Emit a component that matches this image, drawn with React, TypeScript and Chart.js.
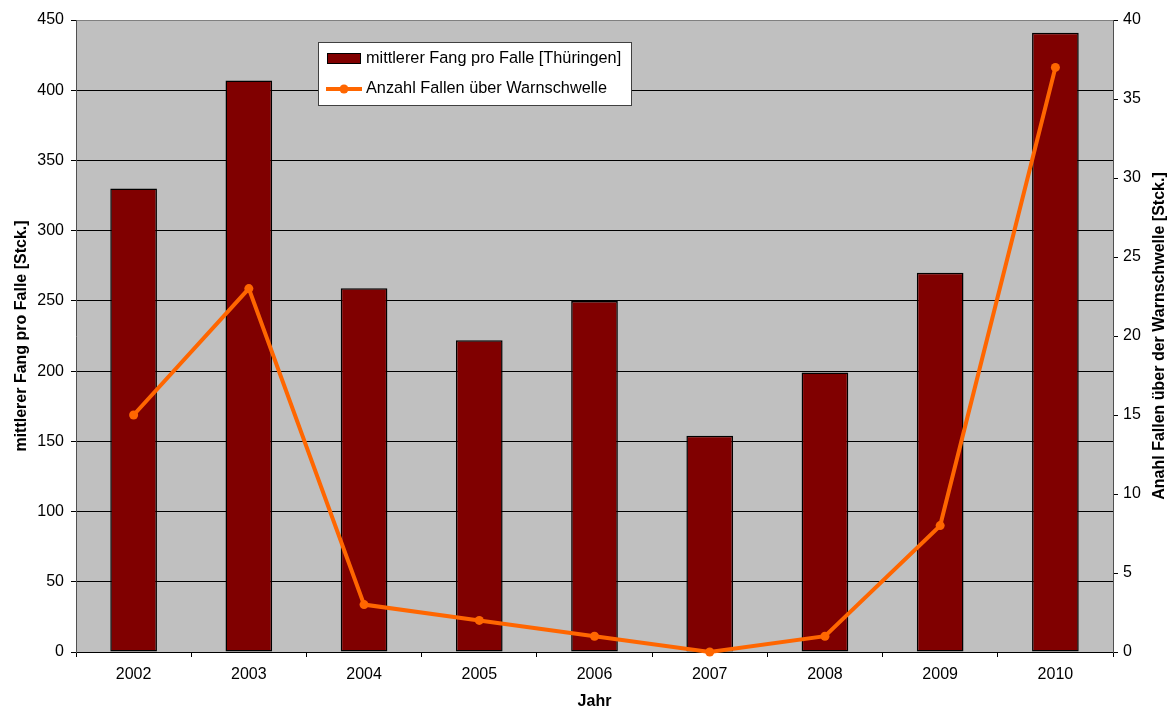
import React, { useEffect, useRef } from "react";
import { Chart, registerables } from "chart.js";

Chart.register(...registerables);

const years = ["2002", "2003", "2004", "2005", "2006", "2007", "2008", "2009", "2010"];
const meanCatch = [330, 407, 259, 222, 250, 154, 199, 270, 441];
const trapsOverThreshold = [15, 23, 3, 2, 1, 0, 1, 8, 37];

const barLabel = "mittlerer Fang pro Falle [Thüringen]";
const lineLabel = "Anzahl Fallen über Warnschwelle";
const leftTitle = "mittlerer Fang pro Falle [Stck.]";
const rightTitle = "Anahl Fallen über der Warnschwelle [Stck.]";
const xTitle = "Jahr";

const FONT = "'Liberation Sans', Arial, sans-serif";
const BAR_COLOR = "#800000";
const LINE_COLOR = "#FF6600";

const bgPlugin = {
  id: "plotBg",
  beforeDraw(chart: any) {
    const { ctx, chartArea } = chart;
    ctx.save();
    ctx.fillStyle = "#C0C0C0";
    ctx.fillRect(chartArea.left, chartArea.top, chartArea.right - chartArea.left, chartArea.bottom - chartArea.top);
    ctx.restore();
  },
};

const extrasPlugin = {
  id: "extras",
  afterDraw(chart: any) {
    const { ctx, chartArea } = chart;
    ctx.save();
    // right axis title (reads bottom-to-top)
    ctx.translate(1160, (chartArea.top + chartArea.bottom) / 2);
    ctx.rotate(-Math.PI / 2);
    ctx.textAlign = "center";
    ctx.textBaseline = "middle";
    ctx.fillStyle = "#000";
    ctx.font = `bold 16px ${FONT}`;
    ctx.fillText(rightTitle, 0, 0);
    ctx.restore();

    // legend
    const ds = chart.data.datasets;
    ctx.save();
    const bx = 318.5, by = 42.5, bw = 313, bh = 63;
    ctx.fillStyle = "#fff";
    ctx.fillRect(bx, by, bw, bh);
    ctx.strokeStyle = "#404040";
    ctx.lineWidth = 1;
    ctx.strokeRect(bx, by, bw, bh);
    // bar swatch
    ctx.fillStyle = BAR_COLOR;
    ctx.fillRect(327.5, 53.5, 33, 10);
    ctx.strokeStyle = "#000";
    ctx.strokeRect(327.5, 53.5, 33, 10);
    // line swatch
    ctx.strokeStyle = LINE_COLOR;
    ctx.lineWidth = 4;
    ctx.beginPath();
    ctx.moveTo(326, 89);
    ctx.lineTo(362, 89);
    ctx.stroke();
    ctx.fillStyle = LINE_COLOR;
    ctx.beginPath();
    ctx.arc(344, 89, 4.5, 0, Math.PI * 2);
    ctx.fill();
    ctx.fillStyle = "#000";
    ctx.font = `16.3px ${FONT}`;
    ctx.textAlign = "left";
    ctx.textBaseline = "middle";
    ctx.fillText(ds[0].label, 366, 59);
    ctx.fillText(ds[1].label, 366, 89);
    ctx.restore();
  },
};

export default function App() {
  const ref = useRef<HTMLCanvasElement | null>(null);

  useEffect(() => {
    if (!ref.current) return;
    const chart = new Chart(ref.current, {
      data: {
        labels: years,
        datasets: [
          {
            type: "bar",
            label: barLabel,
            data: meanCatch,
            backgroundColor: BAR_COLOR,
            borderColor: "#000",
            borderWidth: 1.5,
            borderSkipped: false,
            barPercentage: 0.405,
            categoryPercentage: 1,
            yAxisID: "y",
            order: 2,
          },
          {
            type: "line",
            label: lineLabel,
            data: trapsOverThreshold,
            borderColor: LINE_COLOR,
            backgroundColor: LINE_COLOR,
            borderWidth: 4,
            pointRadius: 4.5,
            pointBorderWidth: 0,
            pointBackgroundColor: LINE_COLOR,
            tension: 0,
            yAxisID: "y1",
            clip: false,
            order: 1,
          } as any,
        ],
      },
      options: {
        animation: false,
        responsive: true,
        maintainAspectRatio: false,
        layout: { padding: { top: 20, left: 0, right: 0, bottom: 0 } },
        plugins: {
          legend: { display: false },
          tooltip: { enabled: false },
        },
        scales: {
          x: {
            type: "category",
            offset: true,
            grid: {
              offset: true,
              drawOnChartArea: false,
              drawTicks: true,
              tickLength: 5,
              color: "#000",
            },
            border: { display: true, color: "#000" },
            ticks: { color: "#000", font: { family: FONT, size: 16 }, padding: 8, maxRotation: 0 },
            title: {
              display: true,
              text: xTitle,
              color: "#000",
              font: { family: FONT, size: 16, weight: "bold" },
              padding: { top: 0, bottom: 0 },
            },
            afterFit(scale: any) {
              scale.height = 59;
            },
          },
          y: {
            type: "linear",
            position: "left",
            min: 0,
            max: 450,
            ticks: { stepSize: 50, color: "#000", font: { family: FONT, size: 16 }, padding: 7 },
            grid: {
              color: (c: any) => (c.tick && c.tick.value === 450 ? "#808080" : "#000"),
              tickColor: "#000",
              tickLength: 5,
              lineWidth: 1,
            },
            border: { display: true, color: "#505050" },
            title: {
              display: true,
              text: leftTitle,
              color: "#000",
              font: { family: FONT, size: 16, weight: "bold" },
              padding: { top: 12, bottom: 0 },
            },
            afterFit(scale: any) {
              scale.width = 76;
            },
          },
          y1: {
            type: "linear",
            position: "right",
            min: 0,
            max: 40,
            ticks: { stepSize: 5, color: "#000", font: { family: FONT, size: 16 }, padding: 5 },
            grid: { drawOnChartArea: false, tickLength: 5, color: "#000" },
            border: { display: true, color: "#505050" },
            afterFit(scale: any) {
              scale.width = 62;
            },
          },
        },
      },
      plugins: [bgPlugin, extrasPlugin],
    } as any);
    return () => chart.destroy();
  }, []);

  return (
    <div style={{ position: "fixed", left: 0, top: 0, width: 1175, height: 711, background: "#fff" }}>
      <canvas ref={ref} />
    </div>
  );
}
